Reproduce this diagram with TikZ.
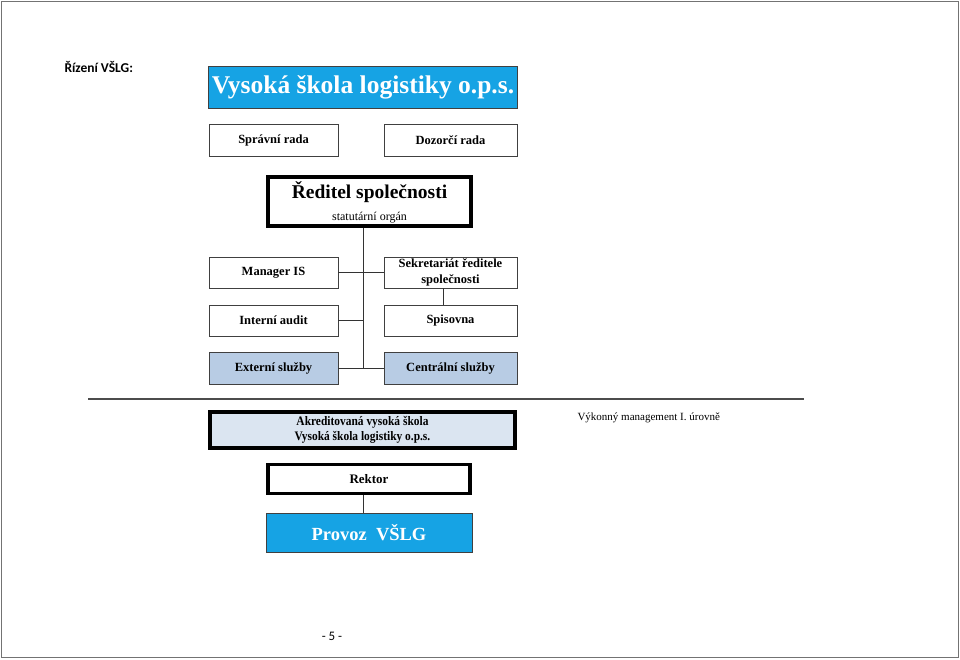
\documentclass[tikz,border=0pt]{standalone}
\usepackage{fontspec}
\setmainfont{Liberation Serif}
\newfontfamily\calibri{Carlito}
\definecolor{vcyan}{RGB}{22,163,228}
\definecolor{lblue}{RGB}{184,204,228}
\definecolor{pblue}{RGB}{219,229,241}
\begin{document}
\begin{tikzpicture}[x=1pt,y=-1pt,
  box/.style={draw=black!75,line width=0.9pt,inner sep=0pt,align=center,font=\fontsize{12.5}{14.5}\selectfont\bfseries},
  thickbox/.style={box,draw=black,line width=3.6pt},
  conn/.style={draw=black!80,line width=0.9pt}]
\useasboundingbox (0,0) rectangle (960,659);
\draw[black!55,line width=1pt] (1,1) rectangle (958,657);
\node[anchor=west,font=\calibri\fontsize{13.5}{15}\selectfont\bfseries] (hdr) at (61,67) {Řízení VŠLG:};
\node[box,fill=vcyan,text=white,minimum width=309pt,minimum height=42pt,font=\fontsize{25.5}{30}\selectfont\bfseries] (title) at (363,87.5) {Vysoká škola logistiky o.p.s.};
\node[box,minimum width=129pt,minimum height=32pt] (spravni) at (273.5,140) {Správní rada};
\node[box,minimum width=133pt,minimum height=32pt] (dozorci) at (450.5,140) {Dozorčí rada};
\node[thickbox,minimum width=203pt,minimum height=49pt] (reditel) at (369.5,201.5) {};
\node[font=\fontsize{19.5}{22}\selectfont\bfseries] (reditelt) at (369.5,192) {Ředitel společnosti};
\node[font=\fontsize{12}{13}\selectfont] (statut) at (369.5,217.5) {statutární orgán};
\coordinate (j1) at (363,369);
\node[box,minimum width=129pt,minimum height=31pt] (manager) at (273.5,272.5) {Manager IS};
\node[box,minimum width=133pt,minimum height=31pt] (sekret) at (450.5,272.5) {Sekretariát ředitele\\[1pt]společnosti};
\node[box,minimum width=129pt,minimum height=31pt] (audit) at (273.5,320.5) {Interní audit};
\node[box,minimum width=133pt,minimum height=31pt] (spis) at (450.5,320.5) {Spisovna};
\node[box,fill=lblue,minimum width=129pt,minimum height=32pt] (extern) at (273.5,368) {Externí služby};
\node[box,fill=lblue,minimum width=133pt,minimum height=32pt] (central) at (450.5,368) {Centrální služby};
\draw[conn] (reditel.south -| j1) -- (j1);
\draw[conn] (manager.east) -- (sekret.west);
\draw[conn] (audit.east) -- (audit.east -| j1);
\draw[conn] (extern.east) -- (central.west);
\draw[conn] ([xshift=-7.5pt]sekret.south) -- ([xshift=-7.5pt]spis.north);
\draw[black!70,line width=1.4pt] (88,399) -- (804,399);
\node[thickbox,fill=pblue,minimum width=305pt,minimum height=36pt,font=\fontsize{13}{15.5}\selectfont\bfseries] (akred) at (362.5,430) {\scalebox{0.88}[1]{\begin{tabular}{@{}c@{}}Akreditovaná vysoká škola\\[-0.5pt]Vysoká škola logistiky o.p.s.\end{tabular}}};
\node[anchor=west,font=\fontsize{11}{13}\selectfont] (vykon) at (574,418) {Výkonný management I. úrovně};
\node[thickbox,minimum width=202pt,minimum height=29pt,font=\fontsize{13}{15}\selectfont\bfseries] (rektor) at (369,479) {Rektor};
\node[box,fill=vcyan,text=white,minimum width=206pt,minimum height=39pt,font=\fontsize{18.5}{22}\selectfont\bfseries] (provoz) at (369,532.5) {Provoz\ \ VŠLG};
\draw[conn] ([xshift=-6pt]rektor.south) -- ([xshift=-6pt]provoz.north);
\node[font=\calibri\fontsize{13}{15}\selectfont] (page) at (332,636) {- 5 -};
\end{tikzpicture}
\end{document}
